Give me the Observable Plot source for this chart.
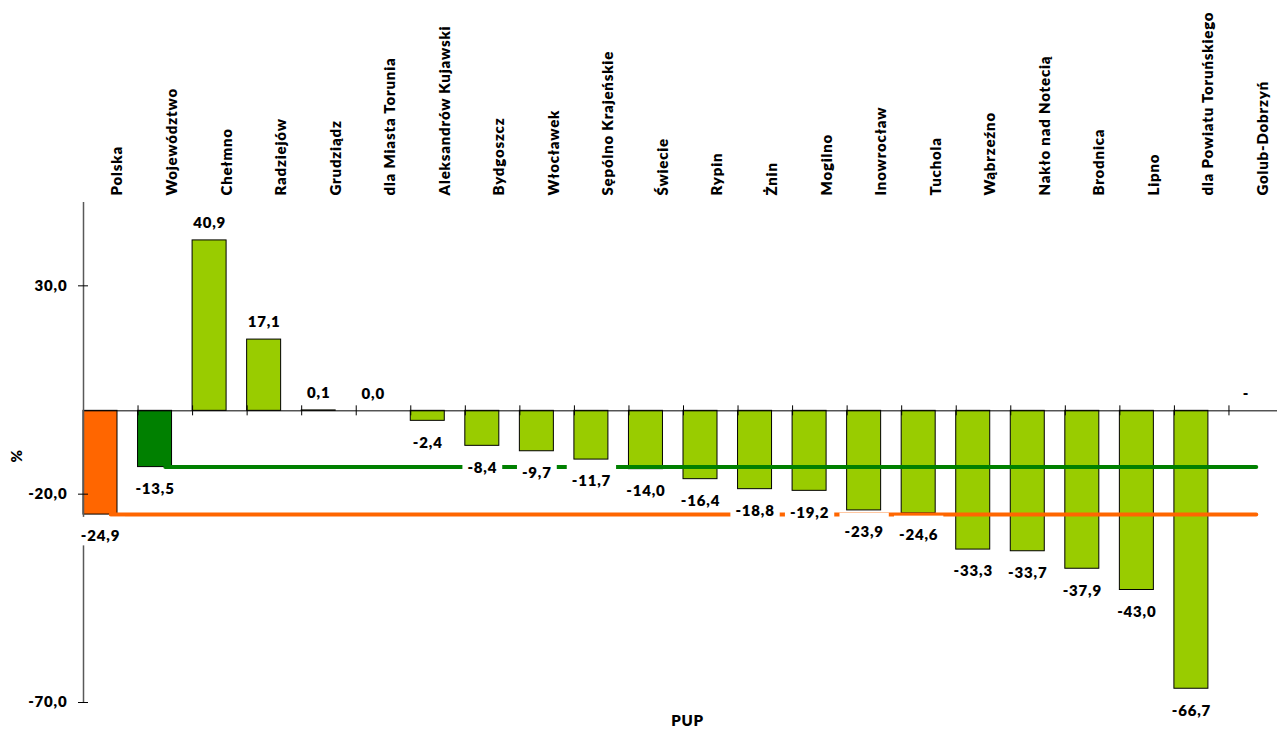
<!DOCTYPE html>
<html><head><meta charset="utf-8">
<script src="https://cdn.jsdelivr.net/npm/d3@7"></script>
<script src="https://cdn.jsdelivr.net/npm/@observablehq/plot@0.6"></script>
<style>body{margin:0;background:#fff;overflow:hidden} svg{display:block}</style>
</head><body><div id="chart"></div>
<script>
const categories = ["Polska", "Województwo", "Chełmno", "Radziejów", "Grudziądz", "dla Miasta Torunia",
  "Aleksandrów Kujawski", "Bydgoszcz", "Włocławek", "Sępólno Krajeńskie", "Świecie", "Rypin", "Żnin",
  "Mogilno", "Inowrocław", "Tuchola", "Wąbrzeźno", "Nakło nad Notecią", "Brodnica", "Lipno",
  "dla Powiatu Toruńskiego", "Golub-Dobrzyń"];
const values = [-24.9, -13.5, 40.9, 17.1, 0.1, 0.0, -2.4, -8.4, -9.7, -11.7, -14.0, -16.4, -18.8,
  -19.2, -23.9, -24.6, -33.3, -33.7, -37.9, -43.0, -66.7, null];
const yTicks = [30, -20, -70];
const xLabel = "PUP";
const yLabel = "%";

const data = categories.map((name, i) => ({name, value: values[i], i}));
const fmt = d => d.toFixed(1).replace(".", ",");
const labelRe = /^(-?\d+,\d|-)$/;
const W = 1277, H = 733, ML = 83, MT = 202, MB = 31;
const bw = 1200 / categories.length;
const barW = 34;
const colorOf = d => d.i === 0 ? "#FF6600" : d.i === 1 ? "#008000" : "#99CC00";
const polskaLine = [categories[0], categories[categories.length - 1]].map(c => ({name: c, value: values[0]}));
const wojLine = [categories[1], categories[categories.length - 1]].map(c => ({name: c, value: values[1]}));
const labelDx = barW / 2 - bw / 2;
const font = {fontWeight: 800, fontSize: 15};

const chart = Plot.plot({
  width: W, height: H,
  marginLeft: ML, marginRight: 0, marginTop: MT, marginBottom: MB,
  style: {fontFamily: "Lato", fontSize: "15px", color: "black", background: "white", letterSpacing: "0.8px"},
  x: {domain: categories, range: [ML, ML + 1200], padding: 0, round: false, axis: null},
  y: {domain: [-70, 50], axis: null},
  marks: [
    Plot.barY(data.filter(d => d.value != null), {x: "name", y: "value", fill: colorOf, stroke: "black", strokeWidth: 1, insetRight: bw - barW}),
    Plot.ruleY([0], {stroke: "black", strokeWidth: 1}),
    Plot.ruleX(categories.slice(1), {x: d => d, y1: -1.2, y2: 1.2, dx: -bw / 2, stroke: "black"}),
    Plot.ruleX([categories[0]], {x: d => d, dx: -bw / 2, stroke: "#595959", strokeWidth: 1.5}),
    Plot.axisY({ticks: yTicks, tickFormat: fmt, tickSize: 5, tickPadding: 11, label: null, fontWeight: 800, fontSize: 15, stroke: "black"}),
    Plot.axisY({ticks: yTicks, tickFormat: () => "", tickSize: -5, label: null, stroke: "black"}),
    Plot.line(wojLine, {x: "name", y: "value", stroke: "#008000", strokeWidth: 4}),
    Plot.line(polskaLine, {x: "name", y: "value", stroke: "#FF6600", strokeWidth: 4}),
    Plot.text(data.filter(d => d.value == null || d.value >= 0), {x: "name", y: d => d.value ?? 0, text: d => d.value == null ? "-" : fmt(d.value), dx: labelDx, dy: -17, ...font}),
    Plot.text(data.filter(d => d.value != null && d.value < 0), {x: "name", y: "value", text: d => fmt(d.value), dx: labelDx, dy: 22, ...font}),
    Plot.text(categories, {x: d => d, frameAnchor: "top", dy: -7, dx: 1, rotate: -90, textAnchor: "start", ...font}),
    Plot.text([xLabel], {frameAnchor: "bottom", dx: 7, dy: 23, ...font}),
    Plot.text([yLabel], {frameAnchor: "left", dx: -66, dy: 10, rotate: -90, ...font})
  ]
});
document.getElementById("chart").appendChild(chart);

// white label boxes (data-label backgrounds hide the reference lines)
chart.querySelectorAll('g[aria-label="text"]').forEach(g => {
  const texts = Array.from(g.querySelectorAll("text")).filter(t => labelRe.test(t.textContent.trim()));
  texts.forEach(t => {
    const b = t.getBBox();
    const cy = b.y + b.height / 2;
    const r = document.createElementNS("http://www.w3.org/2000/svg", "rect");
    r.setAttribute("x", b.x - 5);
    r.setAttribute("y", cy - 18.5);
    r.setAttribute("width", b.width + 10);
    r.setAttribute("height", 28.5);
    r.setAttribute("fill", "white");
    r.setAttribute("stroke", "none");
    if (t.getAttribute("transform")) r.setAttribute("transform", t.getAttribute("transform"));
    g.insertBefore(r, g.firstChild);
  });
});
</script>
</body></html>
